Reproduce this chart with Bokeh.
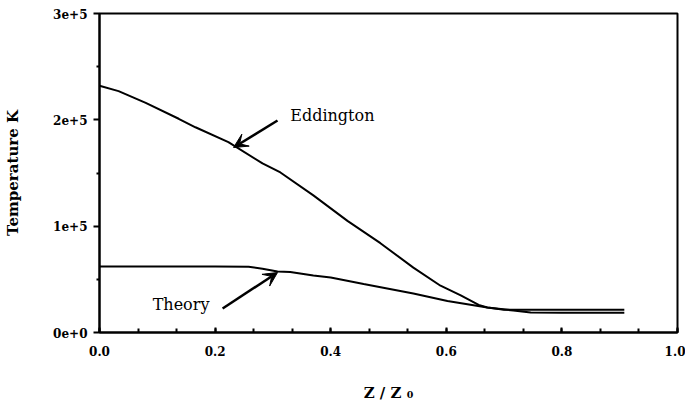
from bokeh.plotting import figure
from bokeh.models import FixedTicker, Arrow, VeeHead, Label
from bokeh.embed import file_html
from bokeh.resources import INLINE

# Data
edd_x = [0.0, 0.033, 0.08, 0.137, 0.166, 0.223, 0.282, 0.313, 0.370, 0.429, 0.486,
         0.543, 0.590, 0.625, 0.656, 0.671, 0.70, 0.75, 0.80, 0.908]
edd_y = [2.32e5, 2.27e5, 2.16e5, 2.01e5, 1.93e5, 1.79e5, 1.59e5, 1.505e5, 1.29e5, 1.05e5, 0.84e5,
         0.61e5, 0.44e5, 0.35e5, 0.26e5, 0.235e5, 0.215e5, 0.213e5, 0.213e5, 0.213e5]

theory_x = [0.0, 0.1, 0.2, 0.258, 0.282, 0.308, 0.33, 0.370, 0.40, 0.457, 0.543,
            0.602, 0.671, 0.716, 0.746, 0.80, 0.908]
theory_y = [0.62e5, 0.62e5, 0.62e5, 0.618e5, 0.60e5, 0.574e5, 0.57e5, 0.536e5, 0.517e5, 0.456e5, 0.367e5,
            0.296e5, 0.235e5, 0.207e5, 0.188e5, 0.185e5, 0.185e5]

x_ticks = [0.0, 0.2, 0.4, 0.6, 0.8, 1.0]
y_ticks = [0, 1e5, 2e5, 3e5]
y_tick_labels = ["0e+0", "1e+5", "2e+5", "3e+5"]

# annotations: label text, label position, arrow tail, arrow tip
ann_text = ["Eddington", "Theory"]
ann_label_x = [0.330, 0.092]
ann_label_y = [2.04e5, 0.26e5]
ann_tail_x = [0.308, 0.213]
ann_tail_y = [1.994e5, 0.226e5]
ann_tip_x = [0.232, 0.308]
ann_tip_y = [1.74e5, 0.564e5]

FONT = "DejaVu Serif"

p = figure(width=685, height=407, output_backend="svg", toolbar_location=None,
           x_range=(0, 1.0), y_range=(0, 3e5),
           min_border_left=99, min_border_top=13, min_border_right=8, min_border_bottom=75)
p.background_fill_color = "white"
p.border_fill_color = "white"
p.outline_line_color = "black"
p.outline_line_width = 2
p.grid.visible = False

p.line(edd_x, edd_y, line_color="black", line_width=2)
p.line(theory_x, theory_y, line_color="black", line_width=2)

for i in range(len(ann_text)):
    p.add_layout(Arrow(end=VeeHead(size=14, fill_color="black", line_color="black"),
                       x_start=ann_tail_x[i], y_start=ann_tail_y[i],
                       x_end=ann_tip_x[i], y_end=ann_tip_y[i],
                       line_color="black", line_width=2.5))
    p.add_layout(Label(x=ann_label_x[i], y=ann_label_y[i], text=ann_text[i],
                       text_font=FONT, text_font_size="16px", text_baseline="middle",
                       text_color="black"))

xa = p.xaxis[0]
xa.ticker = FixedTicker(ticks=x_ticks, minor_ticks=[i / 15 for i in range(16)])
xa.major_label_overrides = {t: f"{t:.1f}" for t in x_ticks}
xa.major_tick_in = 5
xa.major_tick_out = 0
xa.minor_tick_in = 4
xa.minor_tick_out = 0
xa.major_label_standoff = 13
xa.axis_label = "Z / Z \u2080"
xa.axis_label_standoff = 25

ya = p.yaxis[0]
ya.ticker = FixedTicker(ticks=y_ticks, minor_ticks=[0.5e5, 1.5e5, 2.5e5])
ya.major_label_overrides = dict(zip(y_ticks, y_tick_labels))
ya.major_tick_in = 0
ya.major_tick_out = 6
ya.minor_tick_in = 0
ya.minor_tick_out = 3
ya.major_label_standoff = 6
ya.axis_label = "Temperature K"
ya.axis_label_standoff = 28

for ax in (xa, ya):
    ax.axis_line_color = "black"
    ax.axis_line_width = 2
    ax.major_tick_line_color = "black"
    ax.major_tick_line_width = 2
    ax.minor_tick_line_color = "black"
    ax.minor_tick_line_width = 2
    ax.major_label_text_font = FONT
    ax.major_label_text_font_size = "12px"
    ax.major_label_text_font_style = "bold"
    ax.major_label_text_color = "black"
    ax.axis_label_text_font = FONT
    ax.axis_label_text_font_size = "15px"
    ax.axis_label_text_font_style = "bold"
    ax.axis_label_text_color = "black"

open("out.html", "w").write(file_html(p, INLINE))
